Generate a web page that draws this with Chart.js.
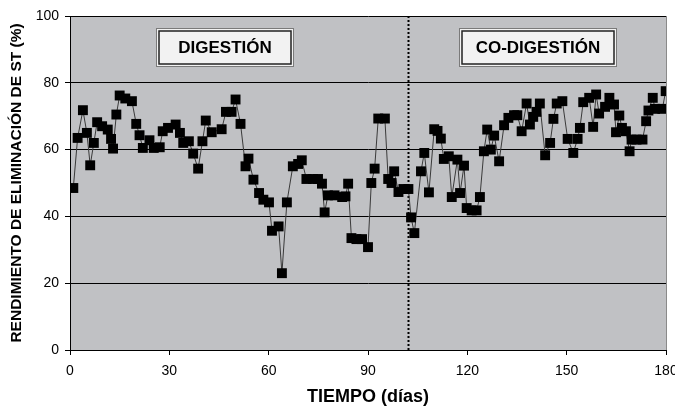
<!DOCTYPE html>
<html lang="es">
<head>
    <meta charset="UTF-8">
    <title>Rendimiento de eliminación de ST</title>
    <style>
        * { margin: 0; padding: 0; box-sizing: border-box; }
        body { background: #ffffff; width: 675px; height: 410px; overflow: hidden; }
        #chart { display: block; }
    </style>
</head>
<body>
    <canvas id="chart" width="675" height="410"></canvas>

    <script src="https://cdn.jsdelivr.net/npm/chart.js"></script>
    <script>
        // Tiempo (días) y rendimiento de eliminación de ST (%)
        const dias = [
            1, 2.3, 3.9, 5.1, 6.1, 7.2, 8.2, 9.7, 11.4, 12.4, 13, 14, 15, 16.7, 18.7, 20, 21, 22, 24, 25.3,
            27.1, 28, 29.6, 31.9, 33.2, 34.2, 35.9, 37.2, 38.7, 40, 41, 42.8, 45.8, 47.1, 48.8, 50, 51.5, 53, 53.9, 55.4,
            57.1, 58.4, 60.1, 61, 63, 64, 65.5, 67.3, 68.9, 70, 71.4, 73.4, 74.9, 76.1, 76.9, 77.9, 79.9, 82.2, 83.2, 84,
            85, 86.5, 88.2, 90, 91, 92, 93.1, 95.1, 96.1, 97.1, 97.9, 99.2, 100.7, 102.2, 103, 104, 106, 107, 108.4, 110,
            111, 112, 112.9, 114.4, 115.3, 117, 117.8, 119, 119.8, 121.3, 122.8, 123.8, 125, 126, 127.1, 128.1, 129.6, 131.1, 132.4, 134.1,
            135.1, 136.4, 137.9, 138.9, 139.9, 140.9, 141.9, 143.5, 145, 146, 147, 148.7, 150.3, 152, 153.3, 154, 155, 156.8, 158, 158.9,
            159.8, 161.6, 162.9, 164.3, 164.9, 165.9, 166.7, 167.9, 169, 169.6, 171.1, 172.9, 174, 174.7, 176, 176.7, 178.9, 179.9
        ];
        const rendimiento = [
            48.5, 63.5, 71.8, 65, 55.3, 62, 68.2, 67, 66, 63.2, 60.3, 70.5, 76.2, 75.3, 74.5, 67.7, 64.3, 60.5, 62.8, 60.5,
            60.7, 65.5, 66.5, 67.5, 65, 62, 62.5, 58.8, 54.3, 62.5, 68.7, 65.2, 66.1, 71.3, 71.3, 75, 67.7, 55, 57.3, 51,
            47, 45, 44.2, 35.7, 37, 23, 44.2, 55, 55.7, 56.8, 51.2, 51.2, 51.2, 49.8, 41.2, 46.3, 46.3, 45.8, 46, 49.8,
            33.5, 33.2, 33.2, 30.8, 50, 54.3, 69.3, 69.3, 51.2, 50, 53.5, 47.3, 48.2, 48.2, 39.7, 35, 53.5, 59, 47.2, 66.1,
            65.6, 63.3, 57.2, 58, 45.8, 57, 47, 55.2, 42.5, 41.8, 41.8, 45.8, 59.5, 66, 60, 64.2, 56.5, 67.3, 69.5, 70.3,
            70.3, 65.5, 73.8, 67.5, 69.8, 71.3, 73.8, 58.3, 62, 69.2, 73.8, 74.5, 63.2, 59, 63.2, 66.5, 74.2, 75.5, 66.8, 76.5,
            70.8, 72.8, 75.5, 73.5, 65.2, 70.2, 66.5, 65.5, 59.5, 63, 63, 63, 68.5, 71.7, 75.5, 72.2, 72.2, 77.5
        ];
        const etapas = ['DIGESTIÓN', 'CO-DIGESTIÓN'];
        const cambioEtapa = 102;

        // fondo gris del área de trazado, línea punteada y cuadros de etapa
        const decor = {
            id: 'decor',
            beforeDraw(chart) {
                const { ctx, chartArea: a } = chart;
                ctx.save();
                ctx.fillStyle = '#c0c1c4';
                ctx.fillRect(a.left, a.top, a.right - a.left, a.bottom - a.top);
                ctx.strokeStyle = '#8a8a8a';
                ctx.beginPath();
                ctx.moveTo(a.right + 0.5, a.top);
                ctx.lineTo(a.right + 0.5, a.bottom);
                ctx.stroke();
                ctx.restore();
            },
            beforeDatasetsDraw(chart) {
                const { ctx, chartArea: a, scales } = chart;
                const xs = scales.x, ys = scales.y;
                ctx.save();
                // cambio de etapa
                const px = Math.round(xs.getPixelForValue(cambioEtapa)) + 0.5;
                ctx.strokeStyle = '#000';
                ctx.lineWidth = 2;
                ctx.setLineDash([2, 2]);
                ctx.beginPath();
                ctx.moveTo(px, a.top);
                ctx.lineTo(px, a.bottom);
                ctx.stroke();
                ctx.setLineDash([]);

                // cuadros con el nombre de cada etapa
                const cajas = [[26.0, 67.4], [117.5, 164.9]];
                const y0 = ys.getPixelForValue(96.5), y1 = ys.getPixelForValue(85.0);
                cajas.forEach((c, i) => {
                    const x0 = Math.round(xs.getPixelForValue(c[0])) + 0.5;
                    const x1 = Math.round(xs.getPixelForValue(c[1])) + 0.5;
                    const t = Math.round(y0) + 0.5, b = Math.round(y1) + 0.5;
                    ctx.fillStyle = '#f2f2f2';
                    ctx.fillRect(x0, t, x1 - x0, b - t);
                    ctx.lineWidth = 1;
                    ctx.strokeStyle = '#7a7a7a';
                    ctx.strokeRect(x0, t, x1 - x0, b - t);
                    ctx.strokeStyle = '#222';
                    ctx.lineWidth = 1.5;
                    ctx.strokeRect(x0 + 2.5, t + 2.5, x1 - x0 - 5, b - t - 5);
                    ctx.fillStyle = '#000';
                    ctx.font = 'bold 17px "Liberation Sans", Arial, sans-serif';
                    ctx.textAlign = 'center';
                    ctx.textBaseline = 'middle';
                    ctx.fillText(etapas[i], (x0 + x1) / 2, (t + b) / 2 + 1);
                });
                ctx.restore();
            }
        };

        const tickFont = { family: '"Liberation Sans", Arial, sans-serif', size: 14 };
        const titleFont = { family: '"Liberation Sans", Arial, sans-serif', weight: 'bold' };

        new Chart(document.getElementById('chart').getContext('2d'), {
            type: 'line',
            data: {
                datasets: [{
                    data: dias.map((d, i) => ({ x: d, y: rendimiento[i] })),
                    borderColor: '#3a3a3a',
                    borderWidth: 1,
                    pointStyle: 'rect',
                    pointRadius: 7,
                    pointBackgroundColor: '#000',
                    pointBorderColor: '#000',
                    pointBorderWidth: 0,
                    tension: 0
                }]
            },
            options: {
                responsive: false,
                animation: false,
                layout: { padding: { top: 16, right: 9, left: 0, bottom: 0 } },
                plugins: { legend: { display: false }, tooltip: { enabled: false } },
                scales: {
                    x: {
                        type: 'linear',
                        min: 0,
                        max: 180,
                        afterFit: s => { s.height = 60; s.paddingRight = 0; s.paddingLeft = 0; },
                        ticks: { stepSize: 30, color: '#000', font: tickFont, padding: 8, maxRotation: 0 },
                        grid: { drawOnChartArea: false, drawTicks: true, tickLength: 5, color: '#000' },
                        border: { color: '#000', width: 1 },
                        title: {
                            display: true,
                            text: 'TIEMPO (días)',
                            color: '#000',
                            font: { ...titleFont, size: 18 },
                            padding: { top: 0, bottom: 2 }
                        }
                    },
                    y: {
                        min: 0,
                        max: 100,
                        afterFit: s => { s.width = 70; s.paddingTop = 0; s.paddingBottom = 0; },
                        ticks: { stepSize: 20, color: '#000', font: tickFont, padding: 6 },
                        grid: { color: '#000', lineWidth: 1, tickLength: 5 },
                        border: { color: '#000', width: 1 },
                        title: {
                            display: true,
                            text: 'RENDIMIENTO DE ELIMINACIÓN DE ST (%)',
                            color: '#000',
                            font: { ...titleFont, size: 15.5 },
                            padding: { top: 7, bottom: 0 }
                        }
                    }
                }
            },
            plugins: [decor]
        });
    </script>
</body>
</html>
